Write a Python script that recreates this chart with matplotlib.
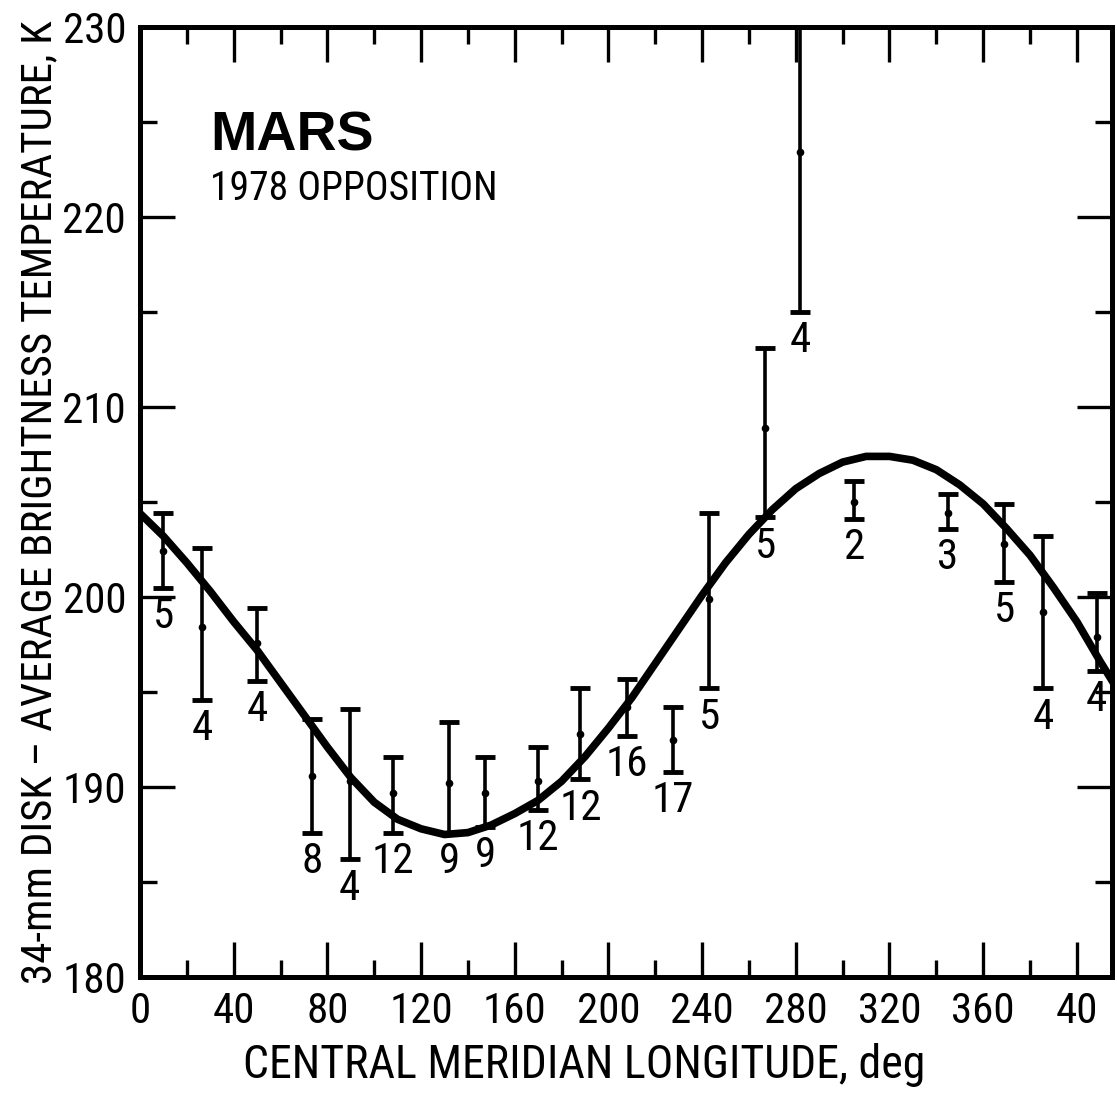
import matplotlib
matplotlib.use("Agg")
import matplotlib.pyplot as plt
from matplotlib.ticker import MultipleLocator, FixedLocator

# error-bar points (central meridian longitude, deg / brightness temperature, K)
lon = [10, 26.5, 50, 73.5, 89.5, 108, 132, 147.5, 170, 188, 208, 227.5,
       243, 267, 282, 305, 345, 369, 385.5, 408.5]
temp = [202.4, 198.4, 197.6, 190.6, 190.3, 189.7, 190.2, 189.7, 190.3, 192.8, 194.2, 192.5,
        199.9, 208.9, 223.4, 205.0, 204.4, 202.8, 199.2, 197.9]
temp_hi = [204.4, 202.6, 199.4, 193.6, 194.1, 191.6, 193.4, 191.6, 192.1, 195.2, 195.7, 194.2,
           204.4, 213.1, 232.0, 206.1, 205.4, 204.9, 203.2, 200.2]
temp_lo = [200.5, 194.6, 195.6, 187.6, 186.2, 187.6, 187.6, 187.9, 188.8, 190.4, 192.7, 190.8,
           195.2, 204.2, 215.0, 204.1, 203.6, 200.8, 195.2, 196.1]
n_obs = [5, 4, 4, 8, 4, 12, 9, 9, 12, 12, 16, 17, 5, 5, 4, 2, 3, 5, 4, 4]

# fitted curve every 10 deg
fit_lon = list(range(0, 430, 10))
fit_temp = [204.4, 203.2, 201.8, 200.3, 198.7, 197.2, 195.5, 193.8, 192.1, 190.5,
            189.2, 188.3, 187.8, 187.5, 187.6, 188.0, 188.6, 189.3, 190.3, 191.6,
            193.1, 194.7, 196.5, 198.3, 200.1, 201.8, 203.3, 204.6, 205.7, 206.5,
            207.1, 207.4, 207.4, 207.2, 206.7, 205.9, 204.9, 203.6, 202.2, 200.5,
            198.7, 196.6, 194.6]

xticks = [0, 40, 80, 120, 160, 200, 240, 280, 320, 360, 400]
xtick_labels = ["0", "40", "80", "120", "160", "200", "240", "280", "320", "360", "40"]

plt.rcParams["font.family"] = ["Roboto Condensed", "Liberation Sans Narrow", "DejaVu Sans"]
plt.rcParams["font.stretch"] = "condensed"

fig = plt.figure(figsize=(11.17, 10.94), dpi=100)
ax = fig.add_axes([140 / 1117, 117 / 1094, 972 / 1117, 950 / 1094])

ax.plot(fit_lon, fit_temp, color="black", lw=5.5, solid_capstyle="round",
        solid_joinstyle="round", zorder=3)

err_lo = [t - lo for t, lo in zip(temp, temp_lo)]
err_hi = [hi - t for t, hi in zip(temp, temp_hi)]
ax.errorbar(lon, temp, yerr=[err_lo, err_hi], fmt="o", color="black", ms=4.5,
            elinewidth=2.6, capsize=7, capthick=3.5, zorder=4)

for x, lo, n in zip(lon, temp_lo, n_obs):
    ax.annotate(str(n), xy=(x, lo), xytext=(0, -6), textcoords="offset points",
                ha="center", va="top", fontsize=31)

ax.set_xlim(0, 415)
ax.set_ylim(180, 230)

ax.xaxis.set_major_locator(FixedLocator(xticks))
ax.set_xticklabels(xtick_labels)
ax.xaxis.set_minor_locator(MultipleLocator(20))
ax.yaxis.set_major_locator(MultipleLocator(10))
ax.yaxis.set_minor_locator(MultipleLocator(5))

ax.tick_params(which="both", direction="in", top=True, right=True, width=2.4,
               labelsize=31, color="black")
ax.tick_params(which="major", length=25, pad=10)
ax.tick_params(which="minor", length=12)

for sp in ax.spines.values():
    sp.set_linewidth(3.6)

ax.set_xlabel("CENTRAL MERIDIAN LONGITUDE, deg", fontsize=33)
ax.xaxis.set_label_coords(0.457, -0.069)
ax.set_ylabel("34-mm DISK \u2013 AVERAGE BRIGHTNESS TEMPERATURE, K", fontsize=31)
ax.yaxis.set_label_coords(-0.082, 0.5)

ax.text(0.072, 0.8705, "MARS", transform=ax.transAxes, fontsize=40,
        fontweight="bold", family=["Liberation Sans", "DejaVu Sans"],
        fontstretch="normal", va="baseline")
ax.text(0.072, 0.818, "1978 OPPOSITION", transform=ax.transAxes, fontsize=28.5,
        va="baseline")

fig.savefig("out.png", dpi=100)
